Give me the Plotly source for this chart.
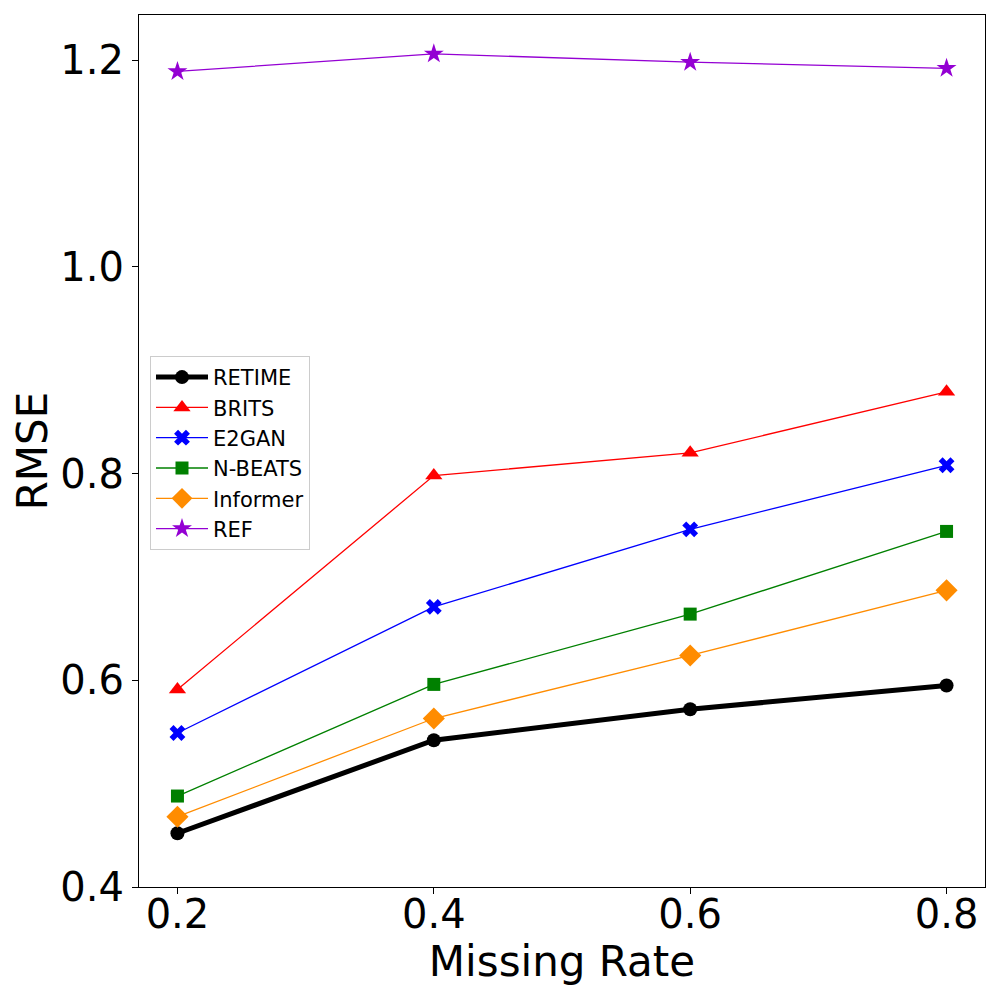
import plotly.graph_objects as go

# Missing rate on x, RMSE on y
missing_rate = [0.2, 0.4, 0.6, 0.8]

retime = [0.452, 0.542, 0.572, 0.595]
brits = [0.591, 0.798, 0.820, 0.879]
e2gan = [0.549, 0.671, 0.746, 0.808]
nbeats = [0.488, 0.596, 0.664, 0.744]
informer = [0.468, 0.563, 0.624, 0.687]
ref = [1.189, 1.206, 1.198, 1.192]

y_ticks = [0.4, 0.6, 0.8, 1.0, 1.2]

series = [
    ("RETIME", retime, "black", "circle", 5, 14),
    ("BRITS", brits, "red", "triangle-up", 1.3, 15),
    ("E2GAN", e2gan, "blue", "x", 1.3, 14),
    ("N-BEATS", nbeats, "green", "square", 1.3, 13),
    ("Informer", informer, "darkorange", "diamond", 1.3, 17),
    ("REF", ref, "darkviolet", "star", 1.3, 15),
]

fig = go.Figure()
for name, vals, color, symbol, lw, ms in series:
    fig.add_trace(go.Scatter(
        x=missing_rate,
        y=vals,
        mode="lines+markers",
        name=name,
        line=dict(color=color, width=lw),
        marker=dict(symbol=symbol, size=ms, color=color, line=dict(width=0)),
    ))

# page has an 8px body margin, so margins are shifted to line the axes up
fig.update_layout(
    width=1000,
    height=1000,
    margin=dict(l=131, r=23, t=7, b=121),
    plot_bgcolor="white",
    paper_bgcolor="white",
    font=dict(family="DejaVu Sans", color="black"),
    showlegend=True,
    legend=dict(
        x=0.013, y=0.609, xanchor="left", yanchor="top",
        font=dict(size=21),
        bordercolor="#cccccc", borderwidth=1,
        bgcolor="rgba(255,255,255,0.8)",
        tracegroupgap=0,
        itemwidth=52,
    ),
)
fig.update_xaxes(
    range=[0.17, 0.83],
    tickvals=missing_rate,
    ticktext=["0.2", "0.4", "0.6", "0.8"],
    tickfont=dict(size=40),
    ticklabelstandoff=-14,
    title=dict(text="Missing Rate", font=dict(size=42), standoff=6),
    showgrid=False, zeroline=False,
    showline=True, linecolor="black", linewidth=1.2, mirror=True,
    ticks="outside", ticklen=6, tickcolor="black",
)
fig.update_yaxes(
    range=[0.4, 1.2436],
    tickvals=y_ticks,
    ticktext=["0.4", "0.6", "0.8", "1.0", "1.2"],
    tickfont=dict(size=40),
    title=dict(text="RMSE", font=dict(size=42), standoff=0),
    showgrid=False, zeroline=False,
    showline=True, linecolor="black", linewidth=1.2, mirror=True,
    ticks="outside", ticklen=6, tickcolor="black",
)

fig.write_html("out.html")
